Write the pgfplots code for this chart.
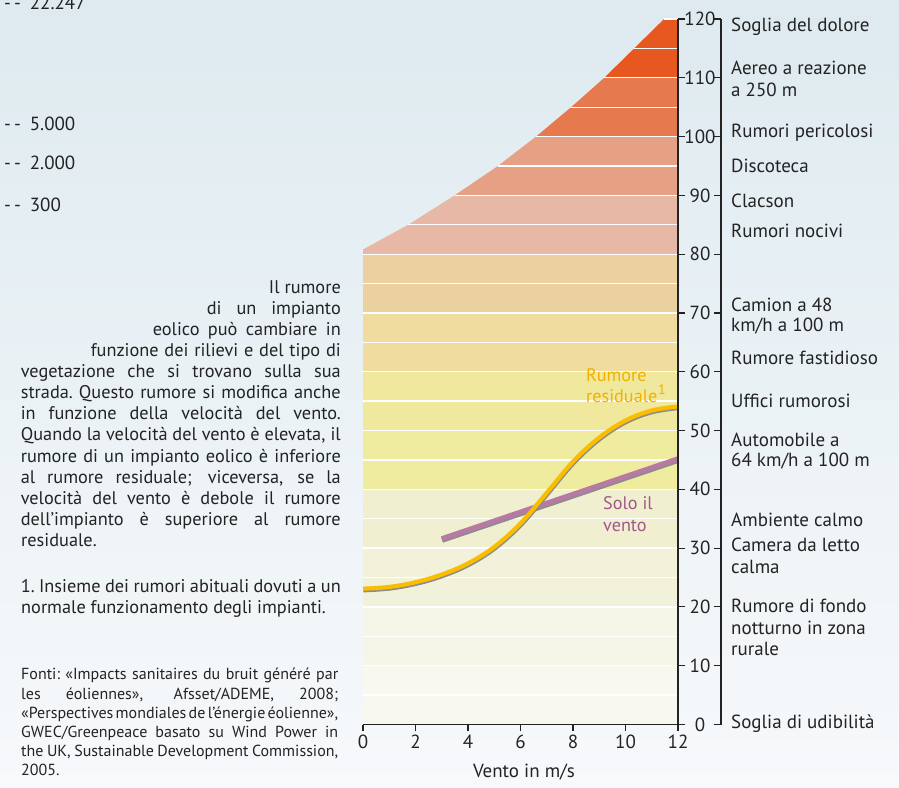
\documentclass[border=0pt]{standalone}
\usepackage{pgfplots}
\pgfplotsset{compat=1.18}
\usepackage{fontspec}
\setmainfont{PT Sans}
\definecolor{bgtop}{RGB}{222,234,240}
\definecolor{bgbot}{RGB}{247,249,251}
\definecolor{b0}{RGB}{248,248,240}
\definecolor{b1}{RGB}{245,246,232}
\definecolor{b2}{RGB}{242,242,219}
\definecolor{b3}{RGB}{240,240,208}
\definecolor{b4}{RGB}{239,236,160}
\definecolor{b5}{RGB}{240,232,156}
\definecolor{b6}{RGB}{240,220,158}
\definecolor{b7}{RGB}{235,208,160}
\definecolor{b8}{RGB}{232,184,166}
\definecolor{b9}{RGB}{230,160,132}
\definecolor{b10}{RGB}{231,121,78}
\definecolor{b11}{RGB}{230,88,31}
\definecolor{txt}{RGB}{35,35,35}
\definecolor{yel}{RGB}{251,189,0}
\definecolor{yeltxt}{RGB}{242,176,0}
\definecolor{mauve}{RGB}{183,122,163}
\definecolor{mauvetxt}{RGB}{163,85,140}
\definecolor{shadow}{RGB}{140,140,140}
\newcommand\fs[1]{\fontsize{#1}{#1}\selectfont}
\newcommand\jl[2]{\hbox to #1{\spaceskip=.21em plus 1fil minus .08em\xspaceskip=\spaceskip\relax #2}}
\begin{document}
\begin{tikzpicture}
\useasboundingbox (0,0) rectangle (899pt,787pt);
\shade[top color=bgtop,bottom color=bgbot] (0,0) rectangle (899pt,787pt);
\begin{axis}[
  at={(363pt,62.5pt)}, anchor=south west,
  width=315pt, height=705.5pt, scale only axis,
  xmin=0, xmax=12, ymin=0, ymax=120,
  axis x line*=bottom, axis y line*=right,
  axis on top,
  xtick={0,2,...,12}, ytick={0,10,...,120},
  tick align=outside, major tick length=7pt,
  axis line style={line width=1.3pt, color=txt},
  tick style={line width=1.1pt, color=txt},
  /pgf/number format/assume math mode=true,
  xticklabel style={font=\fs{19}, text=txt},
  yticklabel style={font=\fs{19}, text=txt, anchor=center, xshift=15pt},
  xlabel={Vento in m/s},
  xlabel style={font=\fs{19}, text=txt, at={(axis description cs:0.511,-0.0758)}, anchor=base},
  clip=false,
]
% background bands
\addplot[draw=none, fill=b0] coordinates {(0,0) (12,0) (12,10) (0,10)} -- cycle;
\addplot[draw=none, fill=b1] coordinates {(0,10) (12,10) (12,20) (0,20)} -- cycle;
\addplot[draw=none, fill=b2] coordinates {(0,20) (12,20) (12,30) (0,30)} -- cycle;
\addplot[draw=none, fill=b3] coordinates {(0,30) (12,30) (12,40) (0,40)} -- cycle;
\addplot[draw=none, fill=b4] coordinates {(0,40) (12,40) (12,50) (0,50)} -- cycle;
\addplot[draw=none, fill=b5] coordinates {(0,50) (12,50) (12,60) (0,60)} -- cycle;
\addplot[draw=none, fill=b6] coordinates {(0,60) (12,60) (12,70) (0,70)} -- cycle;
\addplot[draw=none, fill=b7] coordinates {(0,70) (12,70) (12,80) (0,80)} -- cycle;
% upper bands under the curve
\addplot[draw=none, fill=b8] coordinates {(0,80) (0,80.8) (1.72,85) (3.49,90) (12,90) (12,80)} -- cycle;
\addplot[draw=none, fill=b9] coordinates {(3.49,90) (5.14,95) (6.59,100) (12,100) (12,90)} -- cycle;
\addplot[draw=none, fill=b10] coordinates {(6.59,100) (7.93,105) (9.19,110) (12,110) (12,100)} -- cycle;
\addplot[draw=none, fill=b11] coordinates {(9.19,110) (10.33,115) (11.47,120) (12,120) (12,110)} -- cycle;
% white separators
\pgfplotsinvokeforeach{5,10,...,80}{\addplot[white, line width=1.3pt] coordinates {(0,#1) (12,#1)};}
\addplot[white, line width=1.3pt] coordinates {(1.72,85) (12,85)};
\addplot[white, line width=1.3pt] coordinates {(3.49,90) (12,90)};
\addplot[white, line width=1.3pt] coordinates {(5.14,95) (12,95)};
\addplot[white, line width=1.3pt] coordinates {(6.59,100) (12,100)};
\addplot[white, line width=1.3pt] coordinates {(7.93,105) (12,105)};
\addplot[white, line width=1.3pt] coordinates {(9.19,110) (12,110)};
\addplot[white, line width=1.3pt] coordinates {(10.33,115) (12,115)};
\addplot[white, line width=1.3pt] coordinates {(11.47,120) (12,120)};
% Solo il vento
\addplot[shadow, line width=5pt, yshift=-1.6pt, xshift=0.4pt] coordinates {(3,31.6) (12,45.2)};
\addplot[mauve, line width=5pt] coordinates {(3,31.6) (12,45.2)};
% Rumore residuale
\addplot[shadow, line width=4.2pt, smooth, tension=0.6, yshift=-1.6pt, xshift=0.4pt] coordinates {(0,23.1) (1,23.4) (2,24.2) (3,25.5) (4,27.4) (5,30.2) (6,34.2) (7,39.4) (8,44.7) (9,48.8) (10,51.7) (11,53.4) (12,54.1)};
\addplot[yel, line width=4.2pt, smooth, tension=0.6] coordinates {(0,23.1) (1,23.4) (2,24.2) (3,25.5) (4,27.4) (5,30.2) (6,34.2) (7,39.4) (8,44.7) (9,48.8) (10,51.7) (11,53.4) (12,54.1)};
\end{axis}
% second ruler line
\draw[line width=1.3pt, txt] (721pt,62.5pt) -- (721pt,768pt);
\foreach \v in {0,10,...,120} \draw[line width=1.1pt, txt] (714pt,{62.5pt+\v*5.879pt}) -- (721pt,{62.5pt+\v*5.879pt});
% curve labels
\begin{scope}[every node/.style={inner sep=0pt, anchor=base west, font=\fs{18.2}}]
\node[text=yeltxt] at (586pt,405pt) {Rumore};
\node[text=yeltxt] at (586pt,384pt) {residuale};
\node[text=yeltxt, font=\fs{14}] at (658pt,392pt) {1};
\node[text=mauvetxt] at (603pt,277pt) {Solo il};
\node[text=mauvetxt] at (603pt,255pt) {vento};
\end{scope}
% right labels
\begin{scope}[every node/.style={inner sep=0pt, anchor=base west, font=\fs{19}, text=txt}]
\node at (731pt,755.5pt) {Soglia del dolore};
\node at (731pt,712pt) {Aereo a reazione};
\node at (731pt,690.3pt) {a 250 m};
\node at (731pt,649pt) {Rumori pericolosi};
\node at (731pt,614pt) {Discoteca};
\node at (731pt,579pt) {Clacson};
\node at (731pt,549pt) {Rumori nocivi};
\node at (731pt,475.3pt) {Camion a 48};
\node at (731pt,455.3pt) {km/h a 100 m};
\node at (731pt,422pt) {Rumore fastidioso};
\node at (731pt,379pt) {Uffici rumorosi};
\node at (731pt,340.3pt) {Automobile a};
\node at (731pt,320pt) {64 km/h a 100 m};
\node at (731pt,260.3pt) {Ambiente calmo};
\node at (731pt,235pt) {Camera da letto};
\node at (731pt,213.7pt) {calma};
\node at (731pt,174pt) {Rumore di fondo};
\node at (731pt,152pt) {notturno in zona};
\node at (731pt,131pt) {rurale};
\node at (731pt,59pt) {Soglia di udibilità};
\end{scope}
% top-left values
\begin{scope}[every node/.style={inner sep=0pt, anchor=base west, font=\fs{19}, text=txt}]
\node at (4pt,777pt) {-\kern3pt-\hspace{9pt}22.247};
\node at (4pt,656pt) {-\kern3pt-\hspace{9pt}5.000};
\node at (4pt,617pt) {-\kern3pt-\hspace{9pt}2.000};
\node at (4pt,575pt) {-\kern3pt-\hspace{9pt}300};
\end{scope}
% body text
\begin{scope}[every node/.style={inner sep=0pt, anchor=base east, font=\fs{18.3}, text=txt}]
\node at (341pt,493.7pt) {Il rumore};
\node at (341pt,472.6pt) {\jl{134pt}{di un impianto}};
\node at (341pt,451.5pt) {\jl{188pt}{eolico può cambiare in}};
\node at (341pt,430.4pt) {\jl{250pt}{funzione dei rilievi e del tipo di}};
\node at (341pt,409.3pt) {\jl{320pt}{vegetazione che si trovano sulla sua}};
\node at (341pt,388.2pt) {\jl{320pt}{strada. Questo rumore si modifica anche}};
\node at (341pt,367.1pt) {\jl{320pt}{in funzione della velocità del vento.}};
\node at (341pt,346.0pt) {\jl{320pt}{Quando la velocità del vento è elevata, il}};
\node at (341pt,324.9pt) {\jl{320pt}{rumore di un impianto eolico è inferiore}};
\node at (341pt,303.8pt) {\jl{320pt}{al rumore residuale; viceversa, se la}};
\node at (341pt,282.7pt) {\jl{320pt}{velocità del vento è debole il rumore}};
\node at (341pt,261.6pt) {\jl{320pt}{dell’impianto è superiore al rumore}};
\node[anchor=base west] at (21pt,240.5pt) {residuale.};
\node at (341pt,194.5pt) {\jl{320pt}{1. Insieme dei rumori abituali dovuti a un}};
\node[anchor=base west] at (21pt,173.4pt) {normale funzionamento degli impianti.};
\end{scope}
% sources
\begin{scope}[every node/.style={inner sep=0pt, anchor=base west, font=\fs{16}, text=txt}]
\node at (21pt,107pt) {\jl{317pt}{Fonti: «Impacts sanitaires du bruit généré par}};
\node at (21pt,88pt) {\jl{317pt}{les éoliennes», Afsset/ADEME, 2008;}};
\node at (21pt,69pt) {\jl{317pt}{«Perspectives mondiales de l’énergie éolienne»,}};
\node at (21pt,50pt) {\jl{317pt}{GWEC/Greenpeace basato su Wind Power in}};
\node at (21pt,31pt) {\jl{317pt}{the UK, Sustainable Development Commission,}};
\node at (21pt,12pt) {2005.};
\end{scope}
\end{tikzpicture}
\end{document}
